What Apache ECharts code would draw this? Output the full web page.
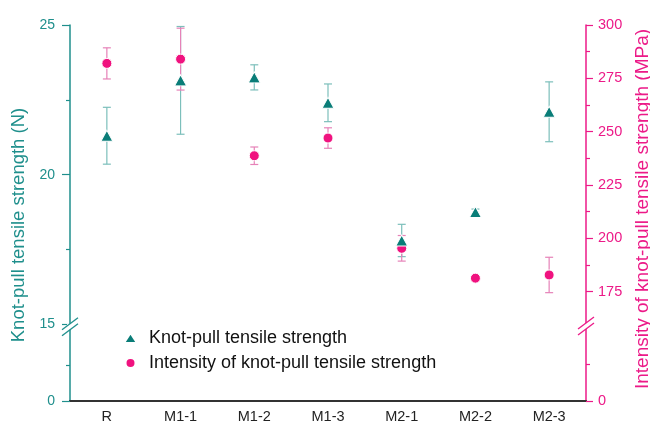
<!DOCTYPE html>
<html><head><meta charset="utf-8">
<script src="https://cdn.jsdelivr.net/npm/echarts@6/dist/echarts.min.js"></script>
<style>html,body{margin:0;padding:0;background:#fff}#c{width:650px;height:427px}</style>
</head><body><div id="c"></div>
<script>
const categories = ['R', 'M1-1', 'M1-2', 'M1-3', 'M2-1', 'M2-2', 'M2-3'];
const strength = [21.3, 23.15, 23.25, 22.4, 17.8, 18.75, 22.1];
const strengthErr = [0.95, 1.8, 0.42, 0.63, 0.54, 0.1, 1.0];
const intensity = [282, 284, 238.7, 247, 195.3, 181.3, 182.8];
const intensityErr = [7.3, 14.5, 4.1, 4.8, 6.0, 1.0, 8.3];
const leftTicks = [0, 15, 20, 25];
const leftMinorTicks = [1.2, 17.5, 22.5];
const rightTicks = [0, 175, 200, 225, 250, 275, 300];
const rightMinorTicks = [17, 187.5, 212.5, 237.5, 262.5, 287.5];

const TEAL = '#0a7d78', TEAL_AXIS = '#1f8f8c', TEAL_ERR = '#7cbfbb';
const PINK = '#f0127f', PINK_AXIS = '#ec1a88', PINK_ERR = '#e682b8';
const FONT = 'Liberation Sans, Arial, sans-serif';
const LEFT_BREAK = { start: 2.4, end: 15, gap: '1.3%' };
const RIGHT_BREAK = { start: 34, end: 160, gap: '1.3%' };

const chart = echarts.init(document.getElementById('c'), null, { renderer: 'canvas' });

function errRender(color) {
  return function (params, api) {
    const i = api.value(0), v = api.value(1), e = api.value(2);
    const top = api.coord([i, v + e]);
    const bot = api.coord([i, v - e]);
    const x = top[0], w = 4;
    const st = { stroke: color, lineWidth: 1.2 };
    return { type: 'group', children: [
      { type: 'line', shape: { x1: x, y1: top[1], x2: x, y2: bot[1] }, style: st },
      { type: 'line', shape: { x1: x - w, y1: top[1], x2: x + w, y2: top[1] }, style: st },
      { type: 'line', shape: { x1: x - w, y1: bot[1], x2: x + w, y2: bot[1] }, style: st }
    ]};
  };
}

function yAxisBase(side, min, max, brk) {
  return {
    type: 'value', position: side, min: min, max: max,
    breaks: [brk], breakArea: { show: false },
    splitLine: { show: false }
  };
}

const option = {
  animation: false,
  textStyle: { fontFamily: FONT },
  grid: { left: 70, right: 64, top: 25, bottom: 26, containLabel: false, outerBoundsMode: 'none' },
  legend: {
    orient: 'vertical', left: 118, top: 323, itemGap: 5,
    itemWidth: 13, itemHeight: 10,
    textStyle: { fontSize: 18, lineHeight: 20, color: '#111', fontFamily: FONT, padding: [0, 0, 0, 7] },
    data: ['Knot-pull tensile strength', 'Intensity of knot-pull tensile strength']
  },
  xAxis: [
    { type: 'category', data: categories, position: 'bottom', boundaryGap: true,
      axisLine: { lineStyle: { color: '#222', width: 1.5 } },
      axisTick: { alignWithLabel: true, length: 6, lineStyle: { color: '#222', width: 1.2 } },
      axisLabel: { fontSize: 14.5, color: '#222', margin: 8, fontFamily: FONT } },
    { type: 'category', data: categories, position: 'bottom', boundaryGap: true,
      axisLine: { show: false },
      axisTick: { length: 3, lineStyle: { color: '#222', width: 1.2 } },
      axisLabel: { show: false } },
    { type: 'category', data: categories, position: 'top', boundaryGap: true,
      axisLine: { lineStyle: { color: '#333', width: 2 } },
      axisTick: { show: false }, axisLabel: { show: false } }
  ],
  yAxis: [
    Object.assign(yAxisBase('left', 0, 25, LEFT_BREAK), {
      name: 'Knot-pull tensile strength (N)', nameLocation: 'middle', nameGap: 40,
      nameTextStyle: { color: TEAL_AXIS, fontSize: 18.5, fontFamily: FONT, padding: [0, 24, 0, 0] },
      axisLine: { show: true, lineStyle: { color: TEAL_AXIS, width: 1.5 } },
      axisTick: { show: true, customValues: leftTicks, length: 8, lineStyle: { color: TEAL_AXIS, width: 1.2 } },
      axisLabel: { customValues: leftTicks, color: TEAL_AXIS, fontSize: 14, margin: 15, fontFamily: FONT }
    }),
    Object.assign(yAxisBase('right', 0, 300, RIGHT_BREAK), {
      name: 'Intensity of knot-pull tensile strength (MPa)', nameLocation: 'middle', nameGap: 44,
      nameTextStyle: { color: PINK_AXIS, fontSize: 19, fontFamily: FONT, padding: [0, 0, 0, 8] },
      axisLine: { show: true, lineStyle: { color: PINK_AXIS, width: 1.5 } },
      axisTick: { show: true, customValues: rightTicks, length: 7, lineStyle: { color: PINK_AXIS, width: 1.2 } },
      axisLabel: { customValues: rightTicks, color: PINK_AXIS, fontSize: 14.5, margin: 12, fontFamily: FONT }
    }),
    Object.assign(yAxisBase('left', 0, 25, LEFT_BREAK), {
      axisLine: { show: false },
      axisTick: { show: true, customValues: leftMinorTicks, length: 4, lineStyle: { color: TEAL_AXIS, width: 1.2 } },
      axisLabel: { show: false }
    }),
    Object.assign(yAxisBase('right', 0, 300, RIGHT_BREAK), {
      axisLine: { show: false },
      axisTick: { show: true, customValues: rightMinorTicks, length: 4, lineStyle: { color: PINK_AXIS, width: 1.2 } },
      axisLabel: { show: false }
    })
  ],
  series: [
    { type: 'custom', name: 'strengthErr', xAxisIndex: 0, yAxisIndex: 0, z: 2,
      renderItem: errRender(TEAL_ERR), encode: { x: 0, y: 1 },
      data: categories.map((c, i) => [i, strength[i], strengthErr[i]]) },
    { type: 'custom', name: 'intensityErr', xAxisIndex: 0, yAxisIndex: 1, z: 2,
      renderItem: errRender(PINK_ERR), encode: { x: 0, y: 1 },
      data: categories.map((c, i) => [i, intensity[i], intensityErr[i]]) },
    { type: 'scatter', name: 'Knot-pull tensile strength', xAxisIndex: 0, yAxisIndex: 0, z: 4,
      symbol: 'triangle', symbolSize: [12, 11],
      itemStyle: { color: TEAL, borderColor: '#fff', borderWidth: 1, opacity: 1 },
      data: strength },
    { type: 'scatter', name: 'Intensity of knot-pull tensile strength', xAxisIndex: 0, yAxisIndex: 1, z: 3,
      symbol: 'circle', symbolSize: 10,
      itemStyle: { color: PINK, borderColor: '#fff', borderWidth: 1, opacity: 1 },
      data: intensity }
  ]
};
chart.setOption(option);

function breakMark(axisIndex, brk, x, color) {
  const y1 = chart.convertToPixel({ yAxisIndex: axisIndex }, brk.start);
  const y2 = chart.convertToPixel({ yAxisIndex: axisIndex }, brk.end);
  const ym = (y1 + y2) / 2;
  const dx = 8, dy = 6;
  return { type: 'group', z: 100, children: [
    { type: 'rect', shape: { x: x - 3, y: ym - 3, width: 6, height: 6 }, style: { fill: '#fff' }, z: 100 },
    { type: 'line', shape: { x1: x - dx, y1: ym - 3 + dy, x2: x + dx, y2: ym - 3 - dy }, style: { stroke: color, lineWidth: 1.3 }, z: 101 },
    { type: 'line', shape: { x1: x - dx, y1: ym + 3 + dy, x2: x + dx, y2: ym + 3 - dy }, style: { stroke: color, lineWidth: 1.3 }, z: 101 }
  ]};
}
const step = chart.convertToPixel({ xAxisIndex: 0 }, 1) - chart.convertToPixel({ xAxisIndex: 0 }, 0);
const leftX = chart.convertToPixel({ xAxisIndex: 0 }, 0) - step / 2;
const rightX = chart.convertToPixel({ xAxisIndex: 0 }, categories.length - 1) + step / 2;
chart.setOption({ graphic: [
  breakMark(0, LEFT_BREAK, leftX, TEAL_AXIS),
  breakMark(1, RIGHT_BREAK, rightX, PINK_AXIS)
]});
</script>
</body></html>
